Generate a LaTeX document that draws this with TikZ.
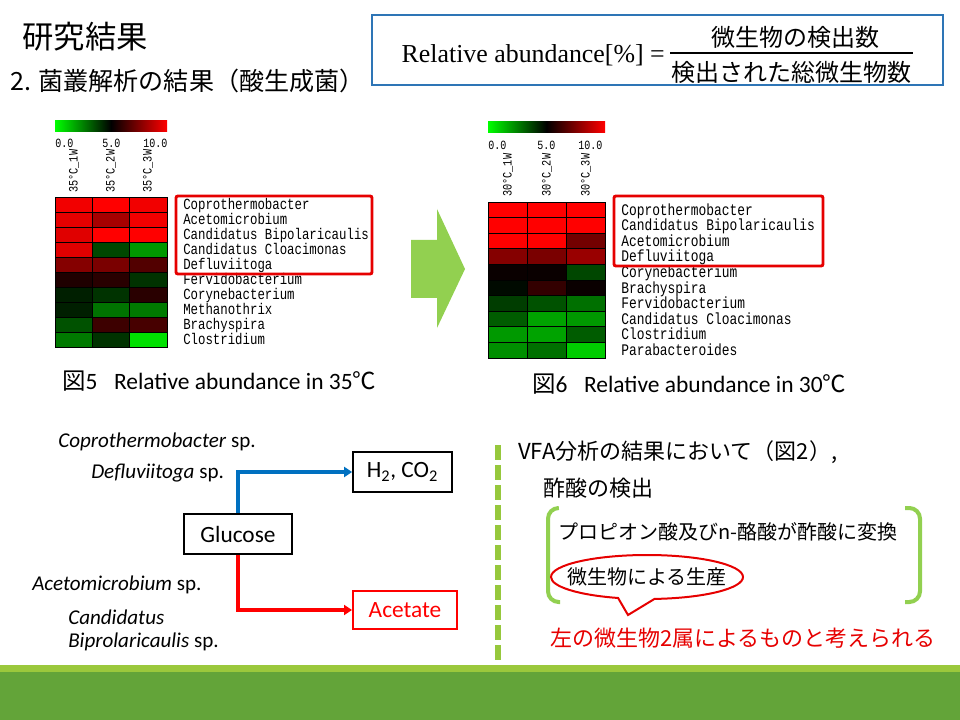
\documentclass[tikz,border=0pt]{standalone}
\usepackage{fontspec}
\setmainfont{Carlito}
\newfontfamily\jpfont{Noto Sans CJK JP}
\newfontfamily\monofont[FakeStretch=0.8]{Liberation Mono}
\newfontfamily\seriffont{Liberation Serif}
\usetikzlibrary{calc,arrows.meta,shapes.callouts}
\definecolor{boxblue}{RGB}{46,117,182}
\definecolor{arrowblue}{RGB}{0,112,192}
\definecolor{markred}{RGB}{230,0,0}
\definecolor{leafgreen}{RGB}{146,208,80}
\definecolor{dashgreen}{RGB}{150,200,60}
\definecolor{barlight}{RGB}{155,200,60}
\definecolor{bardark}{RGB}{99,164,57}
\tikzset{
  hmcell/.style={draw=black, line width=0.6pt},
  hmlab/.style={anchor=west, inner sep=0pt, text height=0.7em, text depth=0.2em, font=\monofont\fontsize{11.6}{12}\selectfont},
  hmcol/.style={anchor=west, rotate=90, inner sep=0pt, font=\monofont\fontsize{9.6}{10}\selectfont},
  hmnum/.style={anchor=west, inner sep=0pt, font=\monofont\fontsize{9.4}{10}\selectfont},
  hmbar/.style={left color=green, right color=red, middle color=black},
  pickbox/.style={draw=markred, line width=2.2pt, rounded corners=1.5pt},
  caption/.style={anchor=west, inner sep=0pt, font=\fontsize{17.6}{20}\selectfont},
  species/.style={anchor=west, inner sep=0pt, font=\fontsize{15.8}{18}\selectfont},
  flowbox/.style={draw, line width=1.5pt, minimum width=81pt, minimum height=30pt, font=\fontsize{17.5}{20}\selectfont},
  flowline/.style={line width=3pt, -{Triangle[length=6pt,width=7.5pt]}},
  jptext/.style={anchor=west, inner sep=0pt, font=\jpfont\fontsize{16.5}{20}\selectfont},
  jpsmall/.style={anchor=west, inner sep=0pt, font=\jpfont\fontsize{15}{18}\selectfont},
  fracjp/.style={inner sep=0pt, font=\jpfont\fontsize{18}{22}\selectfont},
  bracket/.style={leafgreen, line width=3pt, rounded corners=8pt},
}
\def\hmw{37.4}
\def\hmh{15}
\def\hmgap{128}
\def\hmrow(#1,#2)#3#4#5#6#7{%
  \draw[hmcell,fill=#3] (#1,#2) rectangle ++(\hmw,\hmh);
  \draw[hmcell,fill=#4] ($(#1,#2)+(\hmw,0)$) rectangle ++(\hmw,\hmh);
  \draw[hmcell,fill=#5] ($(#1,#2)+(2*\hmw,0)$) rectangle ++(\hmw,\hmh);
  \node[hmlab] (#6) at ($(#1,#2)+(\hmgap,0.5*\hmh+2)$) {#7};}

\begin{document}
\begin{tikzpicture}[x=0.75pt,y=-0.75pt]
		%%%%% START %%%%%
		\useasboundingbox (0,0) rectangle (960,720);
		
		\node[font=\jpfont\fontsize{23.5}{28}\selectfont] (title) at (85,37) {研究結果};
		\node[anchor=west, inner sep=0pt, font=\jpfont\fontsize{18.8}{22}\selectfont] (subtitle) at (10,81) {2. 菌叢解析の結果（酸生成菌）};
		
		\draw[boxblue, line width=2.2pt] (372,15) rectangle (943,85);
		\node[anchor=east, inner sep=0pt, font=\seriffont\fontsize{19.4}{22}\selectfont] (rel) at (665,55) {Relative abundance[\%] =};
		\node[fracjp] (num) at (795,37) {微生物の検出数};
		\node[fracjp] (den) at (791,72) {検出された総微生物数};
		\draw[line width=1.2pt] (670,53) -- (913,53);
		
		%% heat map 35C
		\shade[hmbar] (55,121) rectangle (167,132);
		\node[hmnum] (s0a) at (55,143) {0.0};
		\node[hmnum] (s5a) at (102,143) {5.0};
		\node[hmnum] (s10a) at (143,143) {10.0};
		\node[hmcol] (c1a) at (74,193) {35°C\_1W};
		\node[hmcol] (c2a) at (111,193) {35°C\_2W};
		\node[hmcol] (c3a) at (148,193) {35°C\_3W};
		
		\hmrow(55,197){red!95!black}{red}{red!95!black}{a1}{Coprothermobacter}
		\hmrow(55,212){red!90!black}{red!65!black}{red!95!black}{a2}{Acetomicrobium}
		\hmrow(55,227){red!88!black}{red}{red}{a3}{Candidatus Bipolaricaulis}
		\hmrow(55,242){red!88!black}{green!28!black}{green!60!black}{a4}{Candidatus Cloacimonas}
		\hmrow(55,257){red!52!black}{red!48!black}{red!32!black}{a5}{Defluviitoga}
		\hmrow(55,272){red!12!black}{red!16!black}{green!20!black}{a6}{Fervidobacterium}
		\hmrow(55,287){green!12!black}{green!20!black}{red!16!black}{a7}{Corynebacterium}
		\hmrow(55,302){green!12!black}{green!45!black}{green!48!black}{a8}{Methanothrix}
		\hmrow(55,317){green!32!black}{red!24!black}{red!28!black}{a9}{Brachyspira}
		\hmrow(55,332){green!48!black}{green!20!black}{green!88!black}{a10}{Clostridium}
		\draw[pickbox] (176,196) rectangle (372,274);
		
		\node[caption] (fig5) at (62,381) {{\jpfont 図}5\hspace{0.7em}Relative abundance in 35{\jpfont ℃}};
		
		\fill[leafgreen] (411,240) -- (437,240) -- (437,209) -- (465,269) -- (437,328) -- (437,298) -- (411,298) -- cycle;
		
		%% heat map 30C
		\def\hmw{39}
		\def\hmh{15.6}
		\def\hmgap{133}
		\shade[hmbar] (488,122) rectangle (605,133);
		\node[hmnum] (s0b) at (488,145) {0.0};
		\node[hmnum] (s5b) at (537,145) {5.0};
		\node[hmnum] (s10b) at (578,145) {10.0};
		\node[hmcol] (c1b) at (508,197) {30°C\_1W};
		\node[hmcol] (c2b) at (547,197) {30°C\_2W};
		\node[hmcol] (c3b) at (586,197) {30°C\_3W};
		
		\begin{scope}[hmlab/.append style={font=\monofont\fontsize{12.1}{12}\selectfont}]
		\hmrow(488,202){red}{red}{red}{b1}{Coprothermobacter}
		\hmrow(488,217.6){red}{red}{red}{b2}{Candidatus Bipolaricaulis}
		\hmrow(488,233.2){red}{red}{red!45!black}{b3}{Acetomicrobium}
		\hmrow(488,248.8){red!52!black}{red!48!black}{red!60!black}{b4}{Defluviitoga}
		\hmrow(488,264.4){red!4!black}{red!4!black}{green!28!black}{b5}{Corynebacterium}
		\hmrow(488,280){green!4!black}{red!20!black}{red!4!black}{b6}{Brachyspira}
		\hmrow(488,295.6){green!24!black}{green!32!black}{green!44!black}{b7}{Fervidobacterium}
		\hmrow(488,311.2){green!36!black}{green!64!black}{green!60!black}{b8}{Candidatus Cloacimonas}
		\hmrow(488,326.8){green!60!black}{green!64!black}{green!36!black}{b9}{Clostridium}
		\hmrow(488,342.4){green!56!black}{green!44!black}{green!80!black}{b10}{Parabacteroides}
		\end{scope}
		\draw[pickbox] (614,196) rectangle (823,266);
		
		\node[caption] (fig6) at (532,384) {{\jpfont 図}6\hspace{0.7em}Relative abundance in 30{\jpfont ℃}};
		
		%% pathway
		\node[species] (sp1) at (58,442) {\textit{Coprothermobacter} sp.};
		\node[species] (sp2) at (91,473) {\textit{Defluviitoga} sp.};
		\node[species] (sp3) at (32,585) {\textit{Acetomicrobium} sp.};
		\node[species] (sp4) at (68,617) {\textit{Candidatus}};
		\node[species] (sp5) at (68,642) {\textit{Biprolaricaulis} sp.};
		
		\node[flowbox] (gluc) at (238,534) {Glucose};
		\node[flowbox, minimum width=74pt] (htwo) at (402.5,472) {H\textsubscript{2}, CO\textsubscript{2}};
		\node[flowbox, draw=red, text=red, minimum width=78pt, minimum height=28.5pt] (acet) at (405,610) {Acetate};
		\draw[flowline, arrowblue] (gluc.north) |- (htwo.west);
		\draw[flowline, red] (gluc.south) |- (acet.west);
		
		%% VFA
		\draw[dashgreen, line width=4.5pt, dash pattern=on 11pt off 4pt] (498,445) -- (498,665);
		\node[jptext] (vfa) at (518,452) {VFA分析の結果において（図2）,};
		\node[jptext] (acetic) at (543,488) {酢酸の検出};
		\draw[bracket] (558,508) -- (548,508) -- (548,602) -- (560,602);
		\draw[bracket] (905,508) -- (920,508) -- (920,602) -- (905,602);
		\node[jpsmall] (conv) at (558,532) {プロピオン酸及びn-酪酸が酢酸に変換};
		\node[ellipse callout, draw=markred, line width=1.5pt, minimum width=144pt, minimum height=33pt, inner xsep=-9pt, inner ysep=0pt, callout absolute pointer={(628,615)}, callout pointer arc=22, font=\jpfont\fontsize{15}{18}\selectfont] (prod) at (647,577) {微生物による生産};
		\node[jptext, text=markred] (concl) at (550,638) {左の微生物2属によるものと考えられる};
		
		\fill[barlight] (0,665) rectangle (960,672);
		\fill[bardark] (0,672) rectangle (960,720);
		
		%%%%% END %%%%%
	\end{tikzpicture}
\end{document}
